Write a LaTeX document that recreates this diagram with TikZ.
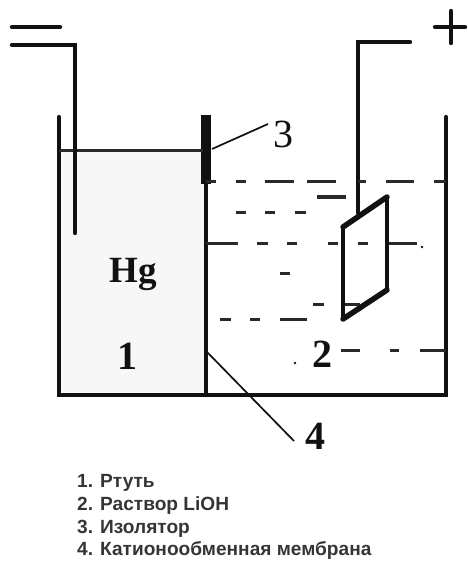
\documentclass[tikz,border=0pt]{standalone}
\usepackage{fontspec}
\setmainfont{Liberation Serif}
\newfontfamily\legendfont{Liberation Sans}
\definecolor{hgfill}{HTML}{F7F7F7}
\definecolor{ink}{HTML}{111111}
\tikzset{
  wall/.style={draw=ink,line width=4.2pt,line cap=round,line join=miter},
  elec/.style={draw=ink,line width=4.4pt,line cap=round,line join=miter},
  level/.style={draw=ink!90,line width=3pt},
  leader/.style={draw=ink,line width=1.7pt},
  num/.style={font=\fontsize{40}{41}\selectfont,text=ink,inner sep=0pt,anchor=base},
  numb/.style={font=\fontsize{40}{41}\selectfont\bfseries,text=ink,inner sep=0pt,anchor=base},
  legend/.style={font=\legendfont\bfseries\fontsize{19.1}{21}\selectfont,text=ink!85,inner sep=0pt,anchor=base west}
}
\begin{document}
\begin{tikzpicture}[x=1pt,y=-1pt]
\useasboundingbox (0,0) rectangle (467,561);
% mercury
\fill[hgfill] (59,151) rectangle (206,395);
% vessel
\coordinate (tl) at (59,117); \coordinate (bl) at (59,395);
\coordinate (br) at (446,395); \coordinate (tr) at (446,117);
\draw[wall] (tl) -- (bl) -- (br) -- (tr);
% membrane and insulator
\coordinate (mt) at (206,183); \coordinate (mb) at (206,395);
\draw[wall] (mt) -- (mb);
\coordinate (it) at (206,115); \coordinate (ib) at (206,184);
\draw[draw=ink,line width=9.5pt] (it) -- (ib);
% mercury level
\coordinate (hl) at (59,151); \coordinate (hr) at (203,151);
\draw[draw=ink!90,line width=3pt] (hl) -- (hr);
% negative terminal
\coordinate (m1) at (12,27); \coordinate (m2) at (60,27);
\draw[elec] (m1) -- (m2);
\coordinate (n1) at (12,45); \coordinate (n2) at (75,45); \coordinate (n3) at (75,233);
\draw[elec] (n1) -- (n2) -- (n3);
% positive terminal
\coordinate (p1) at (410,42); \coordinate (p2) at (358,42); \coordinate (p3) at (358,213);
\draw[elec] (p1) -- (p2) -- (p3);
\coordinate (ph1) at (435,27); \coordinate (ph2) at (465,27);
\coordinate (pv1) at (451,11); \coordinate (pv2) at (451,43);
\draw[elec] (ph1) -- (ph2) (pv1) -- (pv2);
% solution levels
\foreach \y/\list in {182/{206/216,236/246,265/294,307/336,358/366,386/414,434/446},
                      197/{317/346},
                      212/{236/246,265/275,295/306},
                      243/{206/238,257/268,287/297,328/338,358/368,387/417},
                      273/{280/290},
                      304/{313/324,345/360},
                      319/{220/231,250/260,280/307},
                      350/{341/360,390/399,420/446}}{
  \foreach \a/\b in \list { \draw[level] (\a,\y) -- (\b,\y); }
}
\fill[ink] (422,247) circle (1.4pt) (295,363) circle (1.4pt);
% plate
\coordinate (a) at (343,319); \coordinate (b) at (343,227);
\coordinate (c) at (387,197); \coordinate (d) at (387,290);
\draw[wall] (a) -- (b);
\draw[wall] (c) -- (d);
\draw[draw=ink,line width=5.5pt,line cap=round] (b) -- (c) (a) -- (d);
% labels
\node[num] (n3lab) at (283,148) {3};
\node[numb] (n1lab) at (127,369) {1};
\node[numb] (n2lab) at (322,367) {2};
\node[numb] (n4lab) at (315,449) {4};
\node[font=\fontsize{37}{38}\selectfont\bfseries,text=ink,inner sep=0pt,anchor=base] (hg) at (133,282) {Hg};
\coordinate (l3a) at (212,149); \coordinate (l3b) at (268,124);
\draw[leader] (l3a) -- (l3b);
\coordinate (l4a) at (207,352); \coordinate (l4b) at (294,441);
\draw[leader] (l4a) -- (l4b);
% legend
\node[legend] (t1) at (77,487) {1. Ртуть};
\node[legend] (t2) at (77,510) {2. Раствор LiOH};
\node[legend] (t3) at (77,533) {3. Изолятор};
\node[legend] (t4) at (77,555.5) {4. Катионообменная мембрана};
\end{tikzpicture}
\end{document}
